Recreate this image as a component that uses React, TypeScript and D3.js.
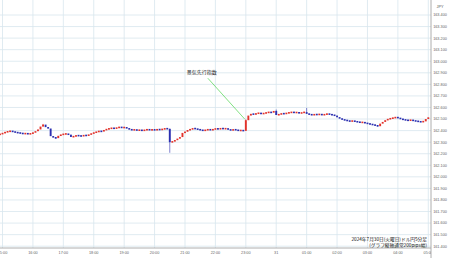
import React from 'react';
import * as d3 from 'd3';

const W = 450;
const H = 258;

// 5-minute candles starting 2024-07-30 14:55 (JST)
const candleStart = new Date(2024, 6, 30, 14, 55);
const firstOpen = 162.365;
const closes = [
  162.370, 162.378, 162.387, 162.392, 162.396, 162.390, 162.385, 162.380, 162.378, 162.372, 162.376, 162.370, 162.374,
  162.382, 162.395, 162.410, 162.435, 162.452, 162.430, 162.418, 162.352, 162.340, 162.335, 162.355, 162.365,
  162.370, 162.372, 162.365, 162.345, 162.350, 162.358, 162.355, 162.352, 162.360, 162.356, 162.365, 162.375,
  162.382, 162.390, 162.395, 162.392, 162.405, 162.412, 162.418, 162.422, 162.418, 162.425, 162.430, 162.425,
  162.428, 162.420, 162.410, 162.405, 162.408, 162.402, 162.405, 162.400, 162.405, 162.410, 162.405, 162.408,
  162.405, 162.410, 162.408, 162.412, 162.418, 162.415, 162.300, 162.305, 162.318, 162.330, 162.344, 162.380,
  162.390, 162.405, 162.410, 162.420, 162.415, 162.410, 162.405, 162.400, 162.405, 162.410, 162.405, 162.410,
  162.418, 162.412, 162.420, 162.415, 162.418, 162.410, 162.402, 162.410, 162.405, 162.400, 162.402, 162.398,
  162.490, 162.530, 162.545, 162.540, 162.548, 162.552, 162.545, 162.550, 162.555, 162.560, 162.555, 162.570,
  162.535, 162.540, 162.548, 162.545, 162.552, 162.555, 162.560, 162.555, 162.558, 162.550, 162.555, 162.560,
  162.545, 162.540, 162.535, 162.540, 162.538, 162.542, 162.535, 162.540, 162.545, 162.540, 162.535, 162.530,
  162.515, 162.505, 162.495, 162.490, 162.485, 162.480, 162.485, 162.478, 162.475, 162.470, 162.472, 162.465,
  162.460, 162.455, 162.450, 162.445, 162.438, 162.460, 162.475, 162.490, 162.500, 162.505, 162.510, 162.515,
  162.510, 162.500, 162.495, 162.490, 162.488, 162.492, 162.485, 162.482, 162.478, 162.475, 162.480, 162.500, 162.515,
];
// notable wicks: [candle index, price]
const wickHighs: [number, number][] = [[17, 162.458], [67, 162.418], [97, 162.498], [109, 162.582], [121, 162.596]];
const wickLows: [number, number][] = [[67, 162.208], [22, 162.33], [149, 162.435]];

const yTickValues = [163.4, 163.3, 163.2, 163.1, 163.0, 162.9, 162.8, 162.7, 162.6, 162.5, 162.4, 162.3, 162.2, 162.1, 162.0, 161.9, 161.8, 161.7, 161.6, 161.5, 161.4];
const xTickLabels = ['15:00', '16:00', '17:00', '18:00', '19:00', '20:00', '21:00', '22:00', '23:00', '31', '01:00', '02:00', '03:00', '04:00', '05:00'];
const axisStart = new Date(2024, 6, 30, 15, 0);
const axisEnd = new Date(2024, 6, 31, 5, 0);

const annotationText = '景気先行指数';
const annotationIndex = 97;
const titleLine1 = '2024年7月30日(火曜日)ドル円5分足';
const titleLine2 = '(グラフ縦軸通常200pips幅)';
const currency = 'JPY';

const PLOT_R = 431;
const PLOT_B = 248;

export default function App() {
  const x = d3.scaleTime().domain([axisStart, axisEnd]).range([2.5, 428.3]);
  const y = d3.scaleLinear().domain([161.4, 163.4]).range([246.2, 15]);
  const hourTicks = d3.timeHour.range(axisStart, d3.timeHour.offset(axisEnd, 1));
  const hi = new Map(wickHighs);
  const lo = new Map(wickLows);

  const candles = closes.map((c, i) => {
    const o = i === 0 ? firstOpen : closes[i - 1];
    const t = d3.timeMinute.offset(candleStart, i * 5);
    const h = hi.get(i) ?? Math.max(o, c);
    const l = lo.get(i) ?? Math.min(o, c);
    return { t, o, c, h, l, i };
  });
  const bw = 1.9;
  const ann = candles[annotationIndex];
  const annX = x(ann.t);
  const annY = y(ann.c);
  const fNum = 'Liberation Sans, Arial, sans-serif';
  const fJp = '"Noto Sans CJK JP", sans-serif';

  return (
    <svg width={W} height={H} style={{ position: 'absolute', left: 0, top: 0, background: '#fff' }}>
      <defs>
        <clipPath id="plot"><rect x={0} y={0} width={PLOT_R} height={PLOT_B} /></clipPath>
        <clipPath id="plot2"><rect x={0} y={PLOT_B} width={PLOT_R} height={H - PLOT_B} /></clipPath>
      </defs>
      <rect x={0} y={0} width={W} height={H} fill="#fff" />
      <g clipPath="url(#plot)">
        {yTickValues.map((v) => (
          <line key={'gy' + v} x1={0} x2={PLOT_R} y1={y(v)} y2={y(v)} stroke="#d8e6ee" strokeWidth={0.8} />
        ))}
        {hourTicks.map((t, k) => (
          <line key={'gx' + k} x1={x(t)} x2={x(t)} y1={0} y2={PLOT_B} stroke="#d8e6ee" strokeWidth={0.8} />
        ))}
        {candles.map((d) => {
          const cx = x(d.t);
          const up = d.c >= d.o;
          const col = up ? '#e2322b' : '#2b2fb0';
          const top = y(Math.max(d.o, d.c));
          const bot = y(Math.min(d.o, d.c));
          const hgt = Math.max(1.6, bot - top);
          const yt = hgt > bot - top ? (top + bot) / 2 - hgt / 2 : top;
          return (
            <g key={d.i}>
              {(d.h > Math.max(d.o, d.c) || d.l < Math.min(d.o, d.c)) && (
                <line x1={cx} x2={cx} y1={y(d.h)} y2={y(d.l)} stroke={col} strokeWidth={0.6} />
              )}
              <rect x={cx - bw / 2} y={yt} width={bw} height={hgt} fill={col} />
            </g>
          );
        })}
        <line x1={annX - 38} y1={annY - 42} x2={annX - 1} y2={annY - 1} stroke="#4cd44c" strokeWidth={0.7} />
        <text x={annX - 44} y={annY - 46} fontSize={5} fontFamily={fJp} textAnchor="middle" fill="#222">{annotationText}</text>
        <text x={427} y={241} fontSize={4.7} fontFamily={fJp} textAnchor="end" fill="#111">{titleLine1}</text>
        <text x={427} y={246.5} fontSize={4.7} fontFamily={fJp} textAnchor="end" fill="#111">{titleLine2}</text>
      </g>
      <line x1={PLOT_R} x2={PLOT_R} y1={0} y2={H} stroke="#999" strokeWidth={0.8} />
      <line x1={0} x2={PLOT_R} y1={PLOT_B} y2={PLOT_B} stroke="#999" strokeWidth={0.8} />
      <text x={440} y={7.5} fontSize={3.8} fontFamily={fNum} textAnchor="middle" fill="#555">{currency}</text>
      {yTickValues.map((v) => (
        <text key={'ty' + v} x={440} y={y(v) + 1.4} fontSize={3.8} fontFamily={fNum} textAnchor="middle" fill="#666">
          {d3.format('.3f')(v)}
        </text>
      ))}
      <g clipPath="url(#plot2)">
        {hourTicks.map((t, k) => (
          <text key={'tx' + k} x={x(t)} y={254} fontSize={3.8} fontFamily={fNum} textAnchor="middle" fill="#666">
            {xTickLabels[k]}
          </text>
        ))}
      </g>
    </svg>
  );
}
